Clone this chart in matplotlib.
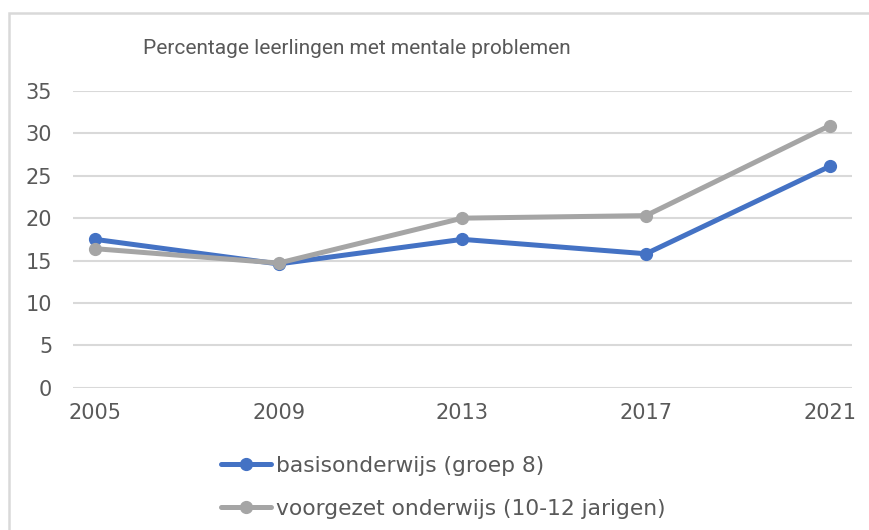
import matplotlib.pyplot as plt
from matplotlib.patches import Rectangle

years = ['2005', '2009', '2013', '2017', '2021']
basis = [17.5, 14.6, 17.5, 15.8, 26.1]
voortgezet = [16.4, 14.7, 20.0, 20.3, 30.9]
labels = ['basisonderwijs (groep 8)', 'voorgezet onderwijs (10-12 jarigen)']

txt = '#595959'
plt.rcParams['font.family'] = 'DejaVu Sans'

fig = plt.figure(figsize=(8.69, 5.30), dpi=100)
ax = fig.add_axes([0.084, 0.2685, 0.896, 0.5598])

x = range(len(years))
ax.plot(x, basis, color='#4472C4', lw=3.6, marker='o', ms=8.5, label=labels[0],
        solid_capstyle='round', zorder=3)
ax.plot(x, voortgezet, color='#A5A5A5', lw=3.6, marker='o', ms=8.5, label=labels[1],
        solid_capstyle='round', zorder=3)

ax.set_xlim(-0.12, 4.12)
ax.set_ylim(0, 35)
ax.set_yticks(range(0, 36, 5))
ax.set_xticks(list(x))
ax.set_xticklabels(years)
ax.grid(axis='y', color='#d9d9d9', lw=1.5)
ax.set_axisbelow(True)
for s in ax.spines.values():
    s.set_visible(False)
ax.tick_params(axis='both', length=0, labelsize=15, colors=txt)
ax.tick_params(axis='y', pad=15)
ax.tick_params(axis='x', pad=11)

fig.text(0.411, 0.909, 'Percentage leerlingen met mentale problemen',
         ha='center', va='center', fontsize=15, color=txt, family='Roboto')

fig.legend(loc='upper left', bbox_to_anchor=(0.254, 0.14), bbox_transform=fig.transFigure,
           frameon=False, fontsize=15.7, handlelength=2.3, handletextpad=0.25,
           labelspacing=1.05, labelcolor=txt, borderpad=0, borderaxespad=0)

# chart frame
fig.patches.append(Rectangle((9 / 869, -0.1), 1.2, 1 - 13 / 530 + 0.1,
                             transform=fig.transFigure, fill=False,
                             edgecolor='#d9d9d9', lw=1.8))

fig.savefig('out.png', dpi=100)
